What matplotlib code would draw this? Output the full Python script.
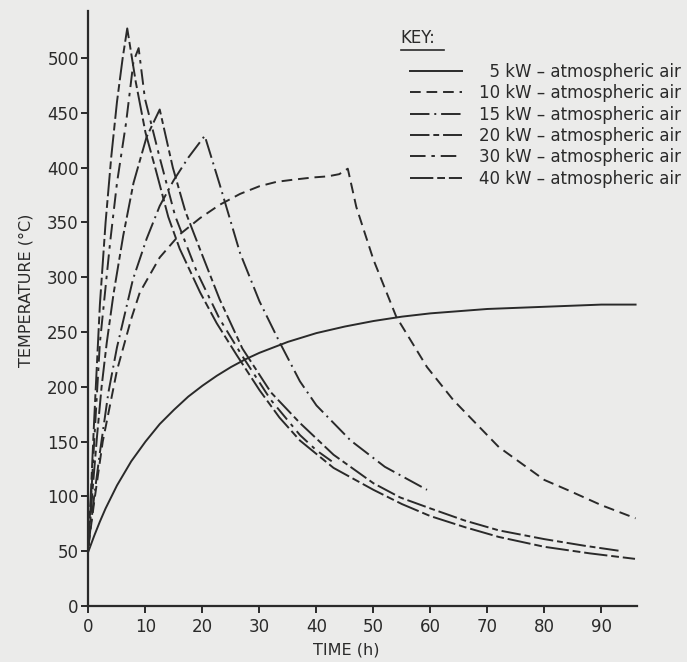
import matplotlib
matplotlib.use("Agg")
import matplotlib.pyplot as plt
from matplotlib.lines import Line2D

# data (time in h, temperature in deg C)
t_5 = [0, 1, 2, 3, 5, 7.5, 10, 12.5, 15, 17.5, 20, 22.5, 25, 27.5, 30, 35, 40, 45, 50, 55, 60, 70, 80, 90, 96]
T_5 = [50, 64, 77, 89, 110, 132, 150, 166, 179, 191, 201, 210, 218, 225, 231, 241, 249, 255, 260, 264, 267, 271, 273, 275, 275]

t_10 = [0, 1, 2.5, 5, 7.5, 9, 12.5, 16, 19.6, 23, 26.6, 30, 33, 36, 39.4, 42, 44, 45.5,
        47, 50, 54, 59.4, 64, 72, 80, 84, 90, 96]
T_10 = [55, 95, 150, 215, 262, 286, 318, 339, 354, 366, 376, 383, 387, 389, 391, 392, 394, 399,
        364, 316, 264, 218, 188, 145, 115, 106, 92, 80]

t_15 = [0, 1, 2, 3.5, 5, 7.8, 10.2, 12.5, 14.9, 17.5, 20.4, 23, 26.6, 30, 33.6, 37.1, 40, 46, 52, 59.4]
T_15 = [55, 100, 140, 195, 236, 298, 335, 365, 388, 409, 429, 385, 322, 278, 240, 205, 183, 151, 127, 106]

t_20 = [0, 0.7, 1.5, 2.3, 3.2, 4.4, 6.1, 7.9, 10.2, 12.5, 14.8, 17, 19.6, 23, 27, 32, 37.1, 43, 50,
        54.7, 60, 66, 72, 80, 87, 93.6]
T_20 = [55, 105, 155, 200, 240, 285, 338, 386, 428, 453, 400, 360, 325, 280, 235, 195, 167, 138, 112,
        99, 89, 78, 69, 61, 55, 50]

t_30 = [0, 1, 2, 3.8, 5, 6.6, 7.9, 8.8, 9.9, 12.4, 15.2, 19, 23, 27, 32, 37.1, 40, 43.5]
T_30 = [55, 150, 240, 332, 386, 441, 497, 509, 463, 411, 356, 305, 262, 228, 188, 156, 142, 129]

t_40 = [0, 1, 2, 3, 4, 5, 6, 6.8, 8.3, 10, 11.7, 14, 16, 19.6, 22.5, 26, 30, 33.5, 37.1, 43, 50,
        55, 60, 66, 72, 80, 88, 95.9]
T_40 = [55, 170, 275, 350, 410, 460, 500, 527, 478, 432, 400, 355, 326, 286, 258, 229, 197, 172, 151, 126, 106,
        93, 82, 72, 63, 54, 48, 43]

labels = ["  5 kW \u2013 atmospheric air", "10 kW \u2013 atmospheric air", "15 kW \u2013 atmospheric air",
          "20 kW \u2013 atmospheric air", "30 kW \u2013 atmospheric air", "40 kW \u2013 atmospheric air"]

x_ticks = [0, 10, 20, 30, 40, 50, 60, 70, 80, 90]
y_ticks = [0, 50, 100, 150, 200, 250, 300, 350, 400, 450, 500]

ink = "#2a2a2a"
paper = "#ebebea"
plt.rcParams["font.family"] = ["DejaVu Sans"]

fig = plt.figure(figsize=(6.87, 6.62), dpi=100, facecolor=paper)
ax = fig.add_axes([0.1288, 0.0846, 0.798, 0.899])
ax.set_facecolor(paper)

styles = ["-", (0, (5.5, 3)), (0, (10, 2.5, 1, 2.5)), (0, (10, 2, 3, 2)),
          (0, (8, 3, 1.8, 3)), (0, (12, 2, 4, 2))]
series = [(t_5, T_5), (t_10, T_10), (t_15, T_15), (t_20, T_20), (t_30, T_30), (t_40, T_40)]

for (tt, TT), ls, lab in zip(series, styles, labels):
    ax.plot(tt, TT, color=ink, lw=1.4, linestyle=ls, label=lab)

ax.set_xlim(0, 96.2)
ax.set_ylim(0, 543)
ax.set_xticks(x_ticks)
ax.set_yticks(y_ticks)
for s in ["top", "right"]:
    ax.spines[s].set_visible(False)
for s in ["left", "bottom"]:
    ax.spines[s].set_color(ink)
    ax.spines[s].set_linewidth(1.6)
ax.tick_params(colors=ink, labelsize=12, width=1.4, length=5, direction="out")
ax.tick_params(axis="y", pad=2)

ax.set_xlabel("TIME (h)", fontsize=11.5, color=ink)
ax.xaxis.set_label_coords(0.47, -0.062)
ax.set_ylabel("TEMPERATURE (\u00b0C)", fontsize=11.5, color=ink)
ax.yaxis.set_label_coords(-0.1, 0.53)

# KEY block
fig.text(0.583, 0.943, "KEY:", fontsize=12, color=ink, ha="left", va="center")
fig.add_artist(Line2D([0.583, 0.647], [0.924, 0.924], color=ink, lw=1.2))

leg = ax.legend(loc="upper left", bbox_to_anchor=(0.597, 0.905), bbox_transform=fig.transFigure,
                frameon=False, fontsize=12, handlelength=3.1, handletextpad=1.05,
                labelspacing=0.2, borderaxespad=0, borderpad=0)
for txt in leg.get_texts():
    txt.set_color(ink)

fig.savefig("out.png", dpi=100, facecolor=paper)
